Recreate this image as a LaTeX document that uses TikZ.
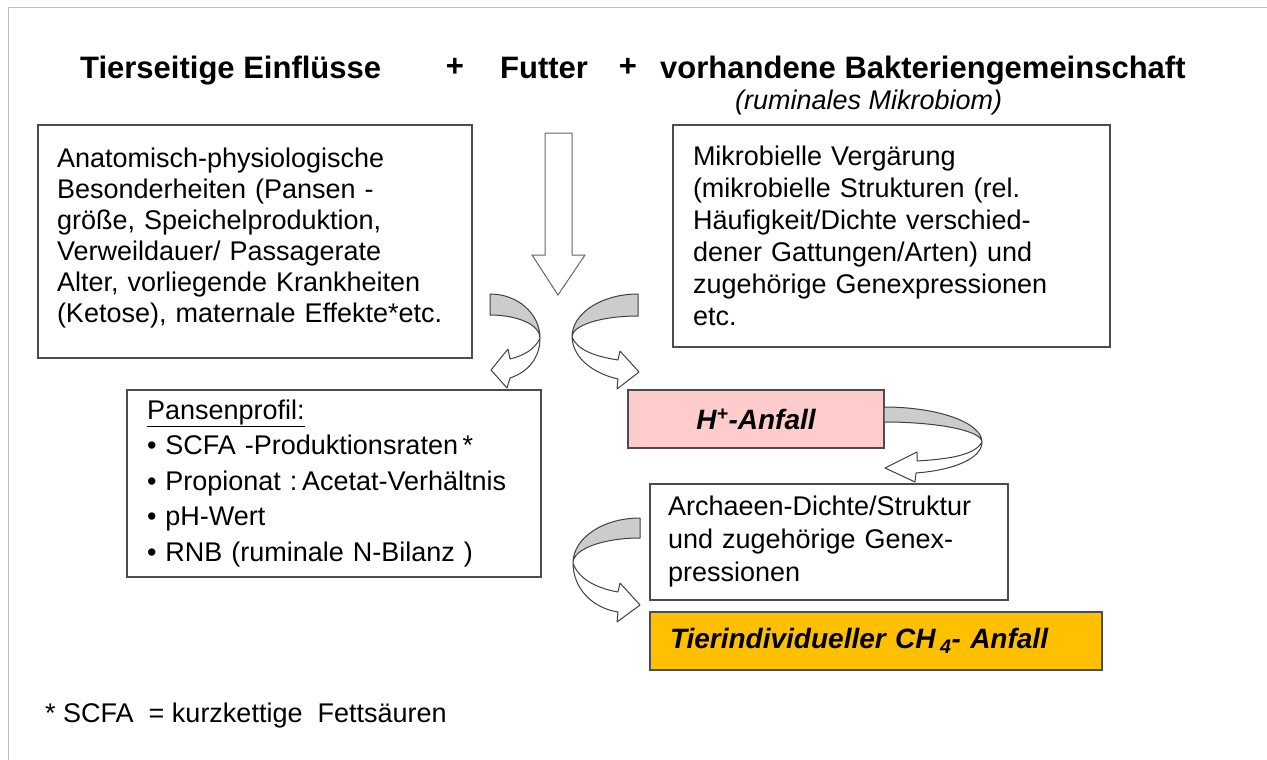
\documentclass[tikz,border=0pt]{standalone}
\usepackage{fontspec}
\setmainfont{Liberation Sans}
\usetikzlibrary{positioning}
\definecolor{hpink}{HTML}{FFCCCC}
\definecolor{chorange}{HTML}{FFC000}

\begin{document}
\begin{tikzpicture}[
  x=1pt, y=-1pt,
  box/.style={draw=black!70, line width=1.3pt, rectangle, align=left, inner ysep=0pt},
  body/.style={font=\fontsize{27}{31}\selectfont},
  heading/.style={font=\fontsize{31}{31}\selectfont\bfseries, inner sep=0pt},
  result/.style={font=\fontsize{28}{28}\selectfont\bfseries\itshape},
  wingback/.style={fill=black!20, draw=black!75, line width=1pt, line join=round},
  wingfront/.style={fill=white, draw=black!75, line width=1pt, line join=round}]
\useasboundingbox (0,0) rectangle (1267,760);
\draw[black!25, line width=1pt] (8,760) -- (8,8) -- (1267,8);

% headings
\node[heading, anchor=base west] (tier) at (80,78) {Tierseitige Einfl\"usse};
\node[heading] (plus1) at (455,67) {+};
\node[heading, anchor=base west] (futter) at (500,78) {Futter};
\node[heading] (plus2) at (628,67) {+};
\node[heading, anchor=base west] (bakterien) at (660,78) {vorhandene Bakteriengemeinschaft};
\node[body, inner sep=0pt, anchor=base west, font=\fontsize{27}{31}\selectfont\itshape] (rumen) at (735,110) {(ruminales Mikrobiom)};

% boxes
\node[box, body, minimum width=434pt, minimum height=233pt, text width=396pt, inner xsep=19pt] (anatomie) at (255,241.5)
  {Anatomisch-physiologische\\ Besonderheiten (Pansen -\\ gr\"o\ss e, Speichelproduktion,\\ Verweildauer/ Passagerate\\ Alter, vorliegende Krankheiten\\ (Ketose), maternale Effekte*etc.\\[-19pt]\mbox{}};
\node[box, body, font=\fontsize{27}{32}\selectfont, minimum width=437pt, minimum height=222pt, text width=397pt, inner xsep=20pt] (mikrobiom) at (891.5,236)
  {Mikrobielle Verg\"arung\\ (mikrobielle Strukturen (rel.\\ H\"aufigkeit/Dichte verschied-\\ dener Gattungen/Arten) und\\ zugeh\"orige Genexpressionen\\ etc.};
\node[box, body, font=\fontsize{27}{35.5}\selectfont, minimum width=414pt, minimum height=187pt, text width=374pt, inner xsep=20pt] (pansen) at (334,483.5)
  {\underline{Pansenprofil:}\\ \textbullet\ SCFA -Produktionsraten\,*\\ \textbullet\ Propionat :\,Acetat-Verh\"altnis\\ \textbullet\ pH-Wert\\ \textbullet\ RNB (ruminale N-Bilanz )};
\node[box, result, fill=hpink, minimum width=256pt, minimum height=58pt, align=center] (hanfall) at (756,419)
  {H\textsuperscript{+}-Anfall};
\node[box, body, font=\fontsize{27}{33}\selectfont, minimum width=358pt, minimum height=116pt, text width=322pt, inner xsep=18pt] (archaeen) at (829,542)
  {Archaeen-Dichte/Struktur\\ und zugeh\"orige Genex-\\ pressionen};
\node[box, result, fill=chorange, minimum width=452pt, minimum height=58pt, text width=412pt, inner xsep=20pt] (methan) at (876,641)
  {Tierindividueller CH\,\textsubscript{4}- Anfall};

\node[body, inner sep=0pt, anchor=base west] (fussnote) at (45,722) {* SCFA \ = kurzkettige\ \ Fetts\"auren};

% big arrow from Futter
\filldraw[fill=white, draw=black!60, line width=1pt] (545,133) -- (572,133) -- (572,255) -- (585,255)
  -- (558,295) -- (532,255) -- (545,255) -- cycle;

% curved arrow to Pansenprofil
\filldraw[wingback] (490,294) .. controls (518,294) and (540,314) .. (540,338)
  .. controls (540,325) and (518,315) .. (490,315) -- cycle;
\filldraw[wingfront] (540,338) .. controls (535,350) and (522,356) .. (510,359) -- (508,349) -- (491,370)
  -- (507,388) -- (510,378) .. controls (528,372) and (540,358) .. (540,338);

% curved arrow to H+-Anfall
\filldraw[wingback] (638,294) .. controls (602,294) and (572,313) .. (572,337)
  .. controls (572,325) and (602,316) .. (638,316) -- cycle;
\filldraw[wingfront] (572,337) .. controls (577,349) and (592,356) .. (618,360) -- (620,351) -- (639,372)
  -- (617,389) -- (618,379) .. controls (596,374) and (573,360) .. (572,337);

% curved arrow to Archaeen
\filldraw[wingback] (884,407) .. controls (939,407) and (982,423) .. (982,442)
  .. controls (982,431) and (939,422) .. (884,422) -- cycle;
\filldraw[wingfront] (982,442) .. controls (975,455) and (950,459) .. (917,461) -- (917,452) -- (885,468)
  -- (915,482) -- (916,473) .. controls (955,470) and (982,458) .. (982,442);

% curved arrow to CH4-Anfall
\filldraw[wingback] (640,518) .. controls (603,518) and (573,538) .. (573,563)
  .. controls (573,549) and (603,538) .. (640,538) -- cycle;
\filldraw[wingfront] (573,563) .. controls (578,578) and (595,588) .. (618,592) -- (620,583) -- (640,605)
  -- (617,622) -- (618,612) .. controls (592,608) and (573,588) .. (573,563);
\end{tikzpicture}
\end{document}
